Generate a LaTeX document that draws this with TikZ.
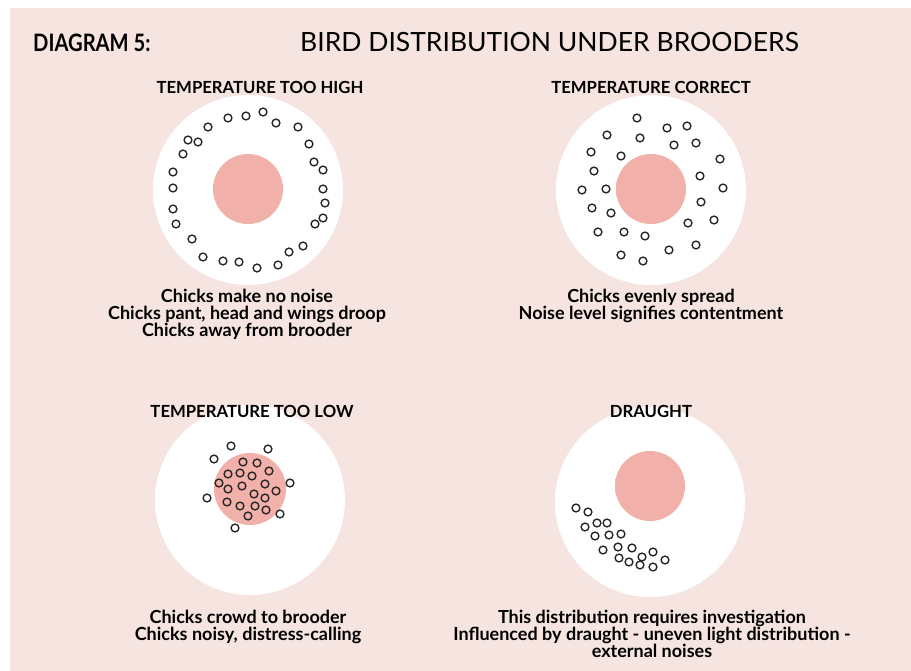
\documentclass[tikz,border=0pt]{standalone}
\usepackage{fontspec}
\setmainfont{Lato}
\usepackage{xcolor}
\usepackage{graphicx}
\usepackage{tikz}
\usetikzlibrary{positioning}
\definecolor{bgpink}{RGB}{246,228,225}
\definecolor{heatpink}{RGB}{242,176,170}
\pgfdeclareradialshading{floorglow}{\pgfpoint{0bp}{0bp}}{color(0bp)=(white); color(40bp)=(white); color(50bp)=(bgpink)}
\pgfdeclareradialshading{heatglow}{\pgfpoint{0bp}{0bp}}{color(0bp)=(heatpink); color(42bp)=(heatpink); color(50bp)=(white)}
\tikzset{
  floor/.style={shading=floorglow},
  lamp/.style={shading=heatglow},
  chick/.style={draw=black!85, line width=1.4pt},
  title/.style={inner sep=0pt, anchor=base west, font=\fontsize{26.5}{30}\selectfont},
  heading/.style={inner sep=0pt, anchor=base, font=\bfseries\fontsize{16.7}{19}\selectfont},
  caption/.style={inner sep=0pt, anchor=north, align=center,
    font=\bfseries\fontsize{18}{17}\selectfont}
}

\begin{document}
\begin{tikzpicture}[x=1pt, y=-1pt]
  \useasboundingbox (0,0) rectangle (911,671);
  \fill[bgpink] (10,8) rectangle (911,671);

  % brooder floors
  \shade[floor] (248,190) circle[radius=95pt];
  \shade[floor] (651,190) circle[radius=95pt];
  \shade[floor] (250,500) circle[radius=95pt];
  \shade[floor] (650,502) circle[radius=95pt];
  \shade[lamp] (248,189) circle[radius=35pt];
  \shade[lamp] (651,189) circle[radius=35pt];
  \shade[lamp] (250,489) circle[radius=36pt];
  \shade[lamp] (650,486) circle[radius=35pt];

  % chicks: too high
  \foreach \x/\y in {208/127, 228/118, 246/116, 263/112, 276/123, 298/127,
    309/144, 314/162, 323/170, 323/189, 325/203, 323/218, 315/224, 303/246,
    289/252, 278/265, 257/268, 239/262, 223/261, 203/257, 192/239, 176/224,
    173/209, 173/188, 173/172, 183/154, 188/140, 198/142}
    \draw[chick] (\x,\y) circle[radius=3.9pt];
  % chicks: correct
  \foreach \x/\y in {637/118, 667/128, 687/126, 607/135, 640/138, 674/145,
    696/143, 591/152, 621/156, 720/159, 594/171, 700/176, 582/190, 606/189,
    723/188, 592/208, 611/213, 701/202, 714/220, 688/223, 598/232, 624/232,
    645/236, 696/245, 669/250, 621/255, 643/261}
    \draw[chick] (\x,\y) circle[radius=3.9pt];
  % chicks: too low
  \foreach \x/\y in {231/446, 268/449, 214/459, 243/462, 257/463, 269/471,
    228/474, 240/473, 252/476, 219/483, 228/489, 242/486, 265/484, 276/491,
    290/483, 254/494, 265/498, 207/498, 227/502, 240/506, 255/506, 266/510,
    280/514, 248/516, 235/528}
    \draw[chick] (\x,\y) circle[radius=3.9pt];
  % chicks: draught
  \foreach \x/\y in {576/508, 588/512, 597/523, 607/523, 585/527, 595/536,
    609/535, 621/534, 603/550, 618/547, 632/548, 619/558, 629/562, 642/557,
    653/552, 640/565, 653/567, 665/560}
    \draw[chick] (\x,\y) circle[radius=3.9pt];

  \node[title, font=\bfseries\fontsize{24}{28}\selectfont] (diagno) at (33,52)
    {\scalebox{0.84}[1]{DIAGRAM 5:}};
  \node[title] (maintitle) at (300,52) {BIRD DISTRIBUTION UNDER BROODERS};

  \node[heading] (hdhigh) at (260,94) {TEMPERATURE TOO HIGH};
  \node[heading] (hdright) at (651,94) {TEMPERATURE CORRECT};
  \node[heading] (hdlow) at (252,417) {TEMPERATURE TOO LOW};
  \node[heading] (hddraught) at (651,417) {DRAUGHT};

  \node[caption] (cphigh) at (247,289)
    {Chicks make no noise\\Chicks pant, head and wings droop\\Chicks away from brooder};
  \node[caption] (cpright) at (651,289)
    {Chicks evenly spread\\Noise level signifies contentment};
  \node[caption] (cplow) at (248,610)
    {Chicks crowd to brooder\\Chicks noisy, distress-calling};
  \node[caption] (cpdraught) at (652,610)
    {This distribution requires investigation\\Influenced by draught - uneven light distribution -\\external noises};
\end{tikzpicture}
\end{document}
